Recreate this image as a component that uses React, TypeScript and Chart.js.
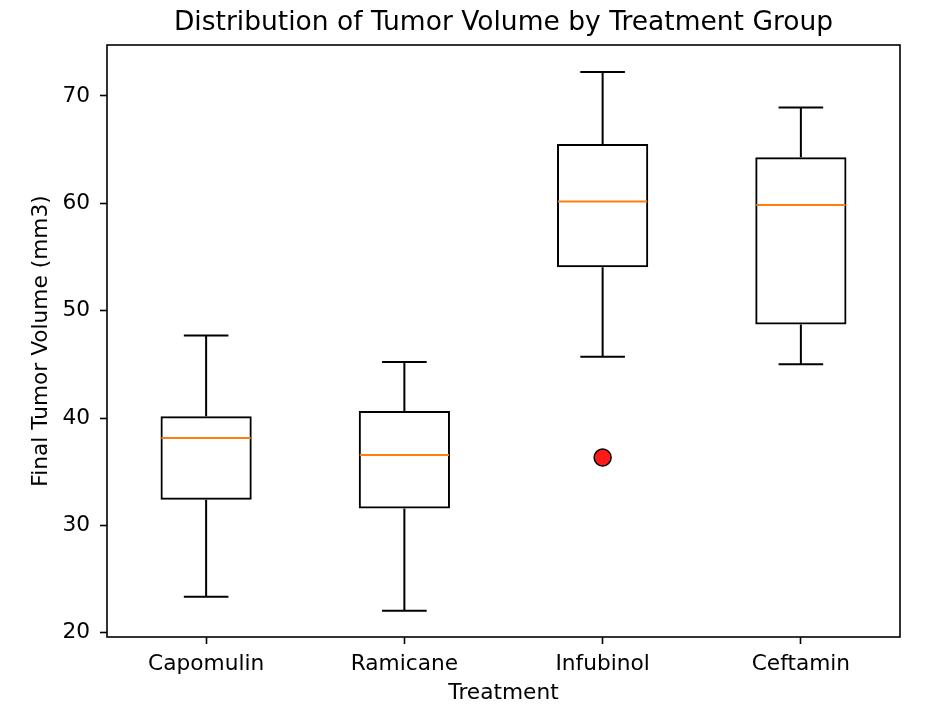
import React, { useEffect, useRef } from 'react';
import { Chart, registerables } from 'chart.js';

Chart.register(...registerables);

// ---- Data ----
const treatments = ['Capomulin', 'Ramicane', 'Infubinol', 'Ceftamin'];
const lowerWhisker = [23.34, 22.05, 45.7, 45.0];
const q1 = [32.38, 31.56, 54.05, 48.72];
const median = [38.13, 36.56, 60.17, 59.85];
const q3 = [40.16, 40.66, 65.53, 64.3];
const upperWhisker = [47.69, 45.22, 72.23, 68.92];
const outliers: (number | null)[] = [null, null, 36.32, null];
const yTicks = [20, 30, 40, 50, 60, 70];
const yMin = 19.6;
const yMax = 74.75;

const FONT = "'DejaVu Sans', sans-serif";
const BOX_FRACTION = 0.45;

const boxPlugin = {
  id: 'boxWhiskers',
  afterDatasetsDraw(chart: any) {
    const { ctx, chartArea } = chart;
    const x = chart.scales.x;
    const y = chart.scales.y;
    const step = x.getPixelForValue(1) - x.getPixelForValue(0);
    const half = (step * BOX_FRACTION) / 2;
    const capHalf = half / 2;
    ctx.save();
    ctx.lineCap = 'butt';
    treatments.forEach((_, i) => {
      const cx = x.getPixelForValue(i);
      const yLo = y.getPixelForValue(lowerWhisker[i]);
      const yQ1 = y.getPixelForValue(q1[i]);
      const yQ3 = y.getPixelForValue(q3[i]);
      const yHi = y.getPixelForValue(upperWhisker[i]);
      const yMed = y.getPixelForValue(median[i]);
      ctx.strokeStyle = '#000';
      ctx.lineWidth = 2;
      ctx.beginPath();
      ctx.moveTo(cx, yQ1);
      ctx.lineTo(cx, yLo);
      ctx.moveTo(cx, yQ3);
      ctx.lineTo(cx, yHi);
      ctx.moveTo(cx - capHalf, yLo);
      ctx.lineTo(cx + capHalf, yLo);
      ctx.moveTo(cx - capHalf, yHi);
      ctx.lineTo(cx + capHalf, yHi);
      ctx.stroke();
      ctx.strokeStyle = '#ff7f0e';
      ctx.beginPath();
      ctx.moveTo(cx - half, yMed);
      ctx.lineTo(cx + half, yMed);
      ctx.stroke();
    });
    ctx.strokeStyle = '#000';
    ctx.lineWidth = 1.6;
    ctx.strokeRect(chartArea.left, chartArea.top, chartArea.right - chartArea.left, chartArea.bottom - chartArea.top);
    ctx.restore();
  },
};

export default function App() {
  const canvasRef = useRef<HTMLCanvasElement | null>(null);

  useEffect(() => {
    if (!canvasRef.current) return;
    const chart = new Chart(canvasRef.current, {
      type: 'bar',
      data: {
        labels: treatments,
        datasets: [
          {
            type: 'bar',
            label: 'IQR',
            data: treatments.map((_, i) => [q1[i], q3[i]]) as any,
            backgroundColor: 'rgba(0,0,0,0)',
            borderColor: '#000',
            borderWidth: 2,
            borderSkipped: false,
            barPercentage: BOX_FRACTION + 0.01,
            categoryPercentage: 1,
          },
          {
            type: 'line',
            label: 'Outliers',
            data: outliers as any,
            showLine: false,
            pointRadius: 8.5,
            pointHoverRadius: 8.5,
            pointBackgroundColor: '#ff1a1a',
            pointBorderColor: '#000',
            pointBorderWidth: 1.5,
          },
        ],
      },
      options: {
        animation: false,
        responsive: false,
        devicePixelRatio: 1,
        layout: { padding: { left: 0, right: 36, top: 0, bottom: 0 } },
        plugins: {
          legend: { display: false },
          tooltip: { enabled: false },
          title: {
            display: true,
            fullSize: false,
            text: 'Distribution of Tumor Volume by Treatment Group',
            color: '#000',
            font: { family: FONT, size: 26.5, weight: 'normal' as any },
            padding: { top: 7.2, bottom: 6 },
          },
        },
        scales: {
          x: {
            type: 'category',
            offset: true,
            grid: {
              display: true,
              drawOnChartArea: false,
              drawTicks: true,
              tickLength: 7,
              tickWidth: 1.6,
              tickColor: '#000',
              offset: false,
            },
            border: { display: false },
            ticks: {
              color: '#000',
              font: { family: FONT, size: 21.7 },
              padding: 7.2,
              maxRotation: 0,
              autoSkip: false,
            },
            title: {
              display: true,
              text: 'Treatment',
              color: '#000',
              font: { family: FONT, size: 21.7 },
              padding: { top: 0, bottom: 4 },
            },
            afterFit: (s: any) => {
              s.height = 73;
            },
          },
          y: {
            min: yMin,
            max: yMax,
            afterBuildTicks: (s: any) => {
              s.ticks = yTicks.map((v) => ({ value: v }));
            },
            grid: {
              display: true,
              drawOnChartArea: false,
              drawTicks: true,
              tickLength: 7,
              tickWidth: 1.6,
              tickColor: '#000',
            },
            border: { display: false },
            ticks: {
              color: '#000',
              font: { family: FONT, size: 21.7 },
              padding: 10,
            },
            title: {
              display: true,
              text: 'Final Tumor Volume (mm3)',
              color: '#000',
              font: { family: FONT, size: 21.7 },
              padding: { top: 28, bottom: 0 },
            },
            afterFit: (s: any) => {
              s.width = 107;
            },
          },
        },
      },
      plugins: [boxPlugin],
    });
    return () => chart.destroy();
  }, []);

  return (
    <div style={{ position: 'fixed', left: 0, top: 0, width: 936, height: 710, background: '#fff' }}>
      <canvas ref={canvasRef} width={936} height={710} />
    </div>
  );
}
